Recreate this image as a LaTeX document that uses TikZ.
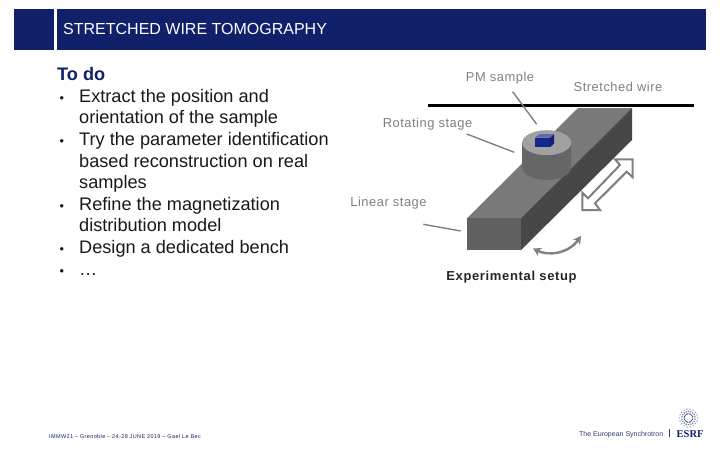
\documentclass[tikz,border=0pt]{standalone}
\usepackage{fontspec}
\setmainfont{Liberation Sans}
\newfontfamily\spacedfont[LetterSpace=4]{Liberation Sans}
\newfontfamily\expfont[LetterSpace=5]{Liberation Sans}
\newfontfamily\footfont[LetterSpace=7]{Liberation Sans}
\newfontfamily\logoserif{Liberation Serif}
\usetikzlibrary{arrows.meta}
\definecolor{navy}{HTML}{10206A}
\definecolor{labelgray}{HTML}{808080}
\definecolor{cubeblue}{HTML}{16288C}
\tikzset{
  x=1pt,y=-1pt,
  headerbar/.style={fill=navy,draw=none},
  graylabel/.style={text=labelgray,inner sep=0,anchor=base,font=\fontsize{12.9}{15}\spacedfont},
  leaderline/.style={draw=labelgray,line width=1.4pt},
  face/.style={draw=none},
}
\newcommand{\itm}[1]{\makebox[22pt][l]{\hspace*{2.5pt}\scalebox{.7}{•}}#1}
\newcommand{\cnt}[1]{\hspace*{22pt}#1}
\begin{document}
\begin{tikzpicture}
\useasboundingbox (0,0) rectangle (720,450);
\fill[white] (0,0) rectangle (720,450);
% header
\fill[headerbar] (14,9) rectangle (53.5,49.5);
\fill[headerbar] (57,9) rectangle (706,49.5);
\node[anchor=base west,inner sep=0,text=white,font=\fontsize{16}{18}\selectfont] (title) at (63,34.5) {STRETCHED WIRE TOMOGRAPHY};
% body
\node[anchor=north west,inner sep=0,align=left,text=black!90,font=\fontsize{18.15}{21.6}\selectfont] (body) at (57,67.4) {%
\textcolor{navy}{\textbf{To do}}\\
\itm{Extract the position and}\\
\cnt{orientation of the sample}\\
\itm{Try the parameter identification}\\
\cnt{based reconstruction on real}\\
\cnt{samples}\\
\itm{Refine the magnetization}\\
\cnt{distribution model}\\
\itm{Design a dedicated bench}\\
\itm{…}};
% wire
\coordinate (wireL) at (428,105);
\coordinate (wireR) at (694,105);
\draw[line width=3pt,black] (wireL) -- (wireR);
% beam
\fill[face,fill=gray!95!black] (467,218.3) -- (521,218.3) -- (632,108) -- (578,108) -- cycle;
\fill[face,fill=black!62] (467,218.3) rectangle (521,250);
\fill[face,fill=black!72] (521,218.3) -- (632,108) -- (632,140) -- (521,250) -- cycle;
% cylinder
\fill[face,fill=black!60] (522.2,142.7) -- (522.2,167.5) arc[start angle=180,end angle=360,x radius=24.5,y radius=-12.5] -- (571.2,142.7) -- cycle;
\fill[face,fill=black!37] (546.7,142.7) ellipse[x radius=24.5,y radius=12.5];
% cube
\fill[face,fill=cubeblue] (535,137.7) rectangle (550,147.3);
\fill[face,fill=cubeblue!85!black] (550,137.7) -- (554,134) -- (554,143.7) -- (550,147.3) -- cycle;
\fill[face,fill=cubeblue!70!white] (535,137.7) -- (539.5,134) -- (554,134) -- (550,137.7) -- cycle;
% labels
\node[graylabel] (pm) at (500,81.5) {PM sample};
\node[graylabel] (wirelabel) at (618,91.5) {Stretched wire};
\node[graylabel] (rot) at (427.5,127.5) {Rotating stage};
\node[graylabel] (lin) at (388.5,206.5) {Linear stage};
\node[anchor=base,inner sep=0,text=black!85,font=\fontsize{13}{15}\expfont\bfseries] (exp) at (511.5,280) {Experimental setup};
% leaders
\coordinate (pmA) at (512.7,91.7); \coordinate (pmB) at (536.7,124.3);
\coordinate (rotA) at (466.7,134); \coordinate (rotB) at (514.3,152.3);
\coordinate (linA) at (423.3,224.3); \coordinate (linB) at (460.7,231);
\draw[leaderline] (pmA) -- (pmB);
\draw[leaderline] (rotA) -- (rotB);
\draw[leaderline] (linA) -- (linB);
% double arrow
\draw[draw=labelgray,fill=white,line width=2pt,line join=miter]
 (582.3,210) -- (582.3,192.7) -- (588,198.3) -- (620,165) -- (615,159.3) -- (632.7,159.3) -- (632.7,177.3) -- (626.7,171.7) -- (595,203.3) -- (600,210) -- cycle;
% rotation arrow
\coordinate (rotL) at (533,248.5);
\coordinate (rotR) at (581,236);
\draw[draw=labelgray,line width=2.4pt,{Stealth[length=8pt,width=9pt]}-{Stealth[length=8pt,width=9pt]}]
 (rotL) .. controls (548,256) and (568,254) .. (rotR);
% footer
\node[anchor=base west,inner sep=0,text=navy,font=\fontsize{5.5}{7}\footfont] (foot) at (49,438) {IMMW21 – Grenoble – 24-28 JUNE 2019 – Gael Le Bec};
% logo
\node[anchor=base west,inner sep=0,text=navy!70!gray,font=\fontsize{7}{9}\selectfont] (synch) at (579,436.5) {The European Synchrotron};
\coordinate (sepT) at (669,429); \coordinate (sepB) at (669,437);
\draw[navy!70!gray,line width=.6pt] (sepT) -- (sepB);
\node[anchor=base west,inner sep=0,text=navy,font=\fontsize{10.5}{12}\logoserif\bfseries] (esrf) at (676.5,437) {ESRF};
\coordinate (star) at (688.5,418);
\foreach \a in {0,20,...,340}{
  \fill[navy!80!white] (star) ++(\a:4.2) circle (.7pt);
  \fill[navy!65!white] (star) ++(\a+10:6.6) circle (.8pt);
  \fill[navy!55!white] (star) ++(\a:9) circle (.7pt);
}
\end{tikzpicture}
\end{document}
